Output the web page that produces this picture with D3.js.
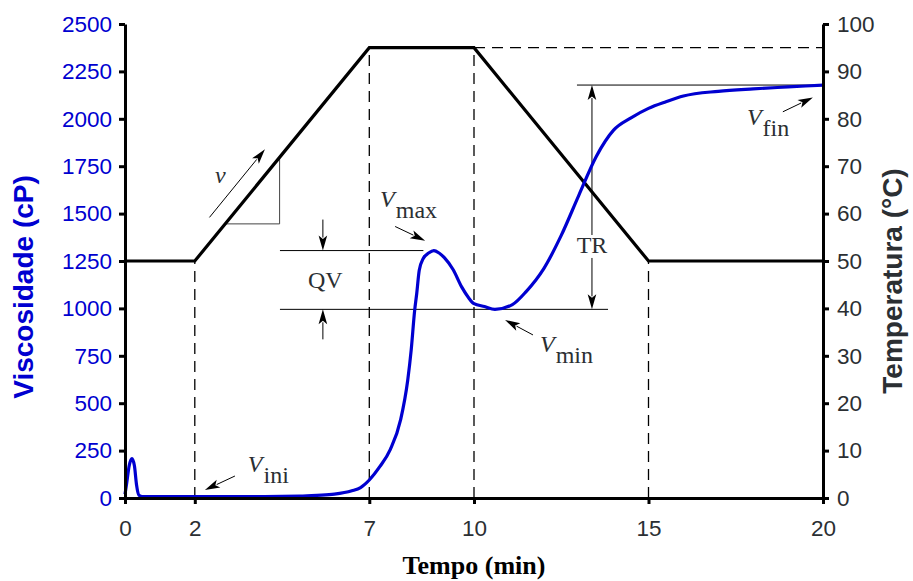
<!DOCTYPE html>
<html>
<head>
<meta charset="utf-8">
<script src="https://cdn.jsdelivr.net/npm/d3@7"></script>
<style>
  html, body { margin: 0; padding: 0; background: #fff; }
  svg { display: block; }
</style>
</head>
<body>
<div id="chart"></div>
<script>
// Time axis ticks (min)
const timeTicks = [0, 2, 7, 10, 15, 20];
const viscTicks = [0, 250, 500, 750, 1000, 1250, 1500, 1750, 2000, 2250, 2500];
const tempTicks = [0, 10, 20, 30, 40, 50, 60, 70, 80, 90, 100];

// Temperature programme (°C)
const tempTime = [0, 2, 7, 10, 15, 20];
const tempValue = [50, 50, 95, 95, 50, 50];

// Viscosity profile (cP)
const viscTime = [0, 0.05, 0.12, 0.2, 0.27, 0.33, 0.4, 0.5, 1, 2, 3, 4, 5, 5.5, 6, 6.5, 6.75, 7,
  7.3, 7.6, 7.9, 8.1, 8.2, 8.3, 8.36, 8.43, 8.55, 8.7, 8.85, 9.0, 9.15, 9.4, 9.65, 9.85, 10.0,
  10.3, 10.6, 11.1, 11.5, 12.0, 12.5, 13.0, 13.5, 14.0, 14.5, 15.0, 15.5, 16.0, 17.0, 18.0, 19.0, 20.0];
const viscValue = [20, 80, 170, 208, 170, 70, 15, 8, 8, 8, 8, 8, 10, 14, 20, 38, 55, 95,
  165, 255, 415, 620, 780, 990, 1080, 1200, 1265, 1292, 1305, 1292, 1268, 1205, 1112, 1055, 1025,
  1010, 995, 1020, 1090, 1210, 1385, 1595, 1800, 1940, 2005, 2055, 2090, 2120, 2145, 2158, 2168, 2178];

// Characteristic viscosities
const vMax = 1305, vMin = 995, vFin = 2178;

const W = 913, H = 581;
const margin = { top: 24, right: 90, bottom: 83, left: 125 };
const iw = W - margin.left - margin.right;
const ih = H - margin.top - margin.bottom;

const svg = d3.select("#chart").append("svg").attr("width", W).attr("height", H);
const g = svg.append("g").attr("transform", `translate(${margin.left},${margin.top})`);

const x = d3.scaleLinear().domain([0, 20]).range([0, iw]);
const yV = d3.scaleLinear().domain([0, 2500]).range([ih, 0]);
const yT = d3.scaleLinear().domain([0, 100]).range([ih, 0]);

const textGray = "#2b2f33";
const blue = "#0000d0";
const sans = "'Liberation Sans', Arial, sans-serif";
const serif = "'Liberation Serif', 'Times New Roman', serif";

const tempAt = t => {
  for (let i = 1; i < tempTime.length; i++) {
    if (t <= tempTime[i]) {
      const a = tempTime[i - 1], b = tempTime[i];
      return tempValue[i - 1] + (tempValue[i] - tempValue[i - 1]) * (t - a) / (b - a);
    }
  }
  return tempValue[tempValue.length - 1];
};

// Dashed guides at the programme break points
const dashed = g.append("g").attr("stroke", "#000").attr("stroke-width", 1.3)
  .attr("stroke-dasharray", "11,7").attr("fill", "none");
[2, 7, 10, 15].forEach(t => {
  dashed.append("line").attr("x1", x(t)).attr("x2", x(t))
    .attr("y1", yT(0)).attr("y2", yT(tempAt(t)));
});
dashed.append("line").attr("x1", x(10)).attr("x2", x(20))
  .attr("y1", yT(95)).attr("y2", yT(95));

// Thin reference lines for Vmax, Vmin, Vfin
const thin = g.append("g").attr("stroke", "#000").attr("stroke-width", 1).attr("fill", "none");
thin.append("line").attr("x1", x(4.44)).attr("x2", x(8.55)).attr("y1", yV(vMax)).attr("y2", yV(vMax));
thin.append("line").attr("x1", x(4.44)).attr("x2", x(13.84)).attr("y1", yV(vMin)).attr("y2", yV(vMin));
thin.append("line").attr("x1", x(12.95)).attr("x2", x(20)).attr("y1", yV(vFin)).attr("y2", yV(vFin));

// Heating-rate triangle
const t1 = 2.87, t2 = 4.43;
thin.append("path").attr("stroke", "#444")
  .attr("d", `M${x(t2)},${yT(tempAt(t2))} L${x(t2)},${yT(tempAt(t1))} L${x(t1)},${yT(tempAt(t1))}`);

// Arrow helper: line with a filled slim head at (x2,y2)
function arrow(x1, y1, x2, y2, len = 15, half = 4.3, sw = 1) {
  const dx = x2 - x1, dy = y2 - y1, L = Math.hypot(dx, dy);
  const ux = dx / L, uy = dy / L;
  const bx = x2 - ux * len, by = y2 - uy * len;
  g.append("line").attr("x1", x1).attr("y1", y1).attr("x2", bx + ux * 2).attr("y2", by + uy * 2)
    .attr("stroke", "#000").attr("stroke-width", sw);
  g.append("path")
    .attr("d", `M${x2},${y2} L${bx - uy * half},${by + ux * half} L${bx + ux * 3.5},${by + uy * 3.5} L${bx + uy * half},${by - ux * half} Z`)
    .attr("fill", "#000");
}

// QV arrows
arrow(x(5.67), yV(vMax) - 31, x(5.67), yV(vMax));
arrow(x(5.67), yV(vMin) + 30, x(5.67), yV(vMin));
// TR double arrow with a gap for the label
const trX = x(13.38);
arrow(trX, yV(1387), trX, yV(vFin));
arrow(trX, yV(1266), trX, yV(vMin));
// Pointer arrows
arrow(x(3.15), yV(116), x(2.29), yV(42));
arrow(x(7.74), yV(1432), x(8.6), yV(1357));
arrow(x(11.69), yV(860), x(10.89), yV(939));
arrow(x(18.85), yV(2037), x(19.71), yV(2113));
arrow(x(2.42), yV(1480), x(4.01), yV(1839));

// Temperature programme line
g.append("path")
  .datum(tempTime.map((t, i) => [t, tempValue[i]]))
  .attr("fill", "none").attr("stroke", "#000").attr("stroke-width", 3.2)
  .attr("stroke-linejoin", "miter")
  .attr("d", d3.line().x(d => x(d[0])).y(d => yT(d[1])));

// Viscosity curve
g.append("path")
  .datum(viscTime.map((t, i) => [t, viscValue[i]]))
  .attr("fill", "none").attr("stroke", blue).attr("stroke-width", 3.2)
  .attr("stroke-linejoin", "round")
  .attr("d", d3.line().curve(d3.curveMonotoneX).x(d => x(d[0])).y(d => yV(d[1])));

// Axes
function styleAxis(sel, color) {
  sel.select(".domain").attr("stroke", "#000").attr("stroke-width", 3);
  sel.selectAll(".tick line").attr("stroke", "#000").attr("stroke-width", 3);
  sel.selectAll(".tick text").attr("fill", color).style("font-family", sans).style("font-size", "22.5px");
}
const fmt = d3.format("d");
const axL = g.append("g")
  .call(d3.axisLeft(yV).tickValues(viscTicks).tickFormat(fmt).tickSize(6).tickSizeOuter(0).tickPadding(7));
styleAxis(axL, blue);
const axR = g.append("g").attr("transform", `translate(${iw},0)`)
  .call(d3.axisRight(yT).tickValues(tempTicks).tickFormat(fmt).tickSize(6).tickSizeOuter(0).tickPadding(8));
styleAxis(axR, textGray);
const axB = g.append("g").attr("transform", `translate(0,${ih})`)
  .call(d3.axisBottom(x).tickValues(timeTicks).tickFormat(fmt).tickSize(6).tickSizeOuter(0).tickPadding(16));
styleAxis(axB, textGray);

// Axis titles
svg.append("text").attr("transform", `translate(33,287) rotate(-90)`)
  .attr("text-anchor", "middle").attr("fill", blue)
  .style("font-family", sans).style("font-weight", "bold").style("font-size", "28px")
  .text("Viscosidade (cP)");
svg.append("text").attr("transform", `translate(902,281) rotate(-90)`)
  .attr("text-anchor", "middle").attr("fill", textGray)
  .style("font-family", sans).style("font-weight", "bold").style("font-size", "28px")
  .text("Temperatura (°C)");
svg.append("text").attr("x", margin.left + x(10)).attr("y", 574)
  .attr("text-anchor", "middle").attr("fill", "#000")
  .style("font-family", serif).style("font-weight", "bold").style("font-size", "26px")
  .text("Tempo (min)");

// Annotation labels
function vLabel(px, py, sub) {
  const t = g.append("text").attr("x", px).attr("y", py).attr("fill", textGray)
    .style("font-family", serif).style("font-size", "24px");
  t.append("tspan").style("font-style", "italic").text("V");
  t.append("tspan").attr("dx", 1).attr("dy", 11).text(sub);
}
vLabel(x(3.52), yV(137), "ini");
vLabel(x(7.31), yV(1535), "max");
vLabel(x(11.89), yV(770), "min");
vLabel(x(17.82), yV(1967), "fin");

g.append("text").attr("x", x(5.24)).attr("y", yV(1108)).attr("fill", textGray)
  .style("font-family", serif).style("font-size", "24px").text("QV");
g.append("text").attr("x", trX).attr("y", yV(1292)).attr("text-anchor", "middle").attr("fill", textGray)
  .style("font-family", serif).style("font-size", "24px").text("TR");
g.append("text").attr("x", x(2.58)).attr("y", yV(1661)).attr("fill", textGray)
  .style("font-family", serif).style("font-style", "italic").style("font-size", "24px").text("v");
</script>
</body>
</html>
